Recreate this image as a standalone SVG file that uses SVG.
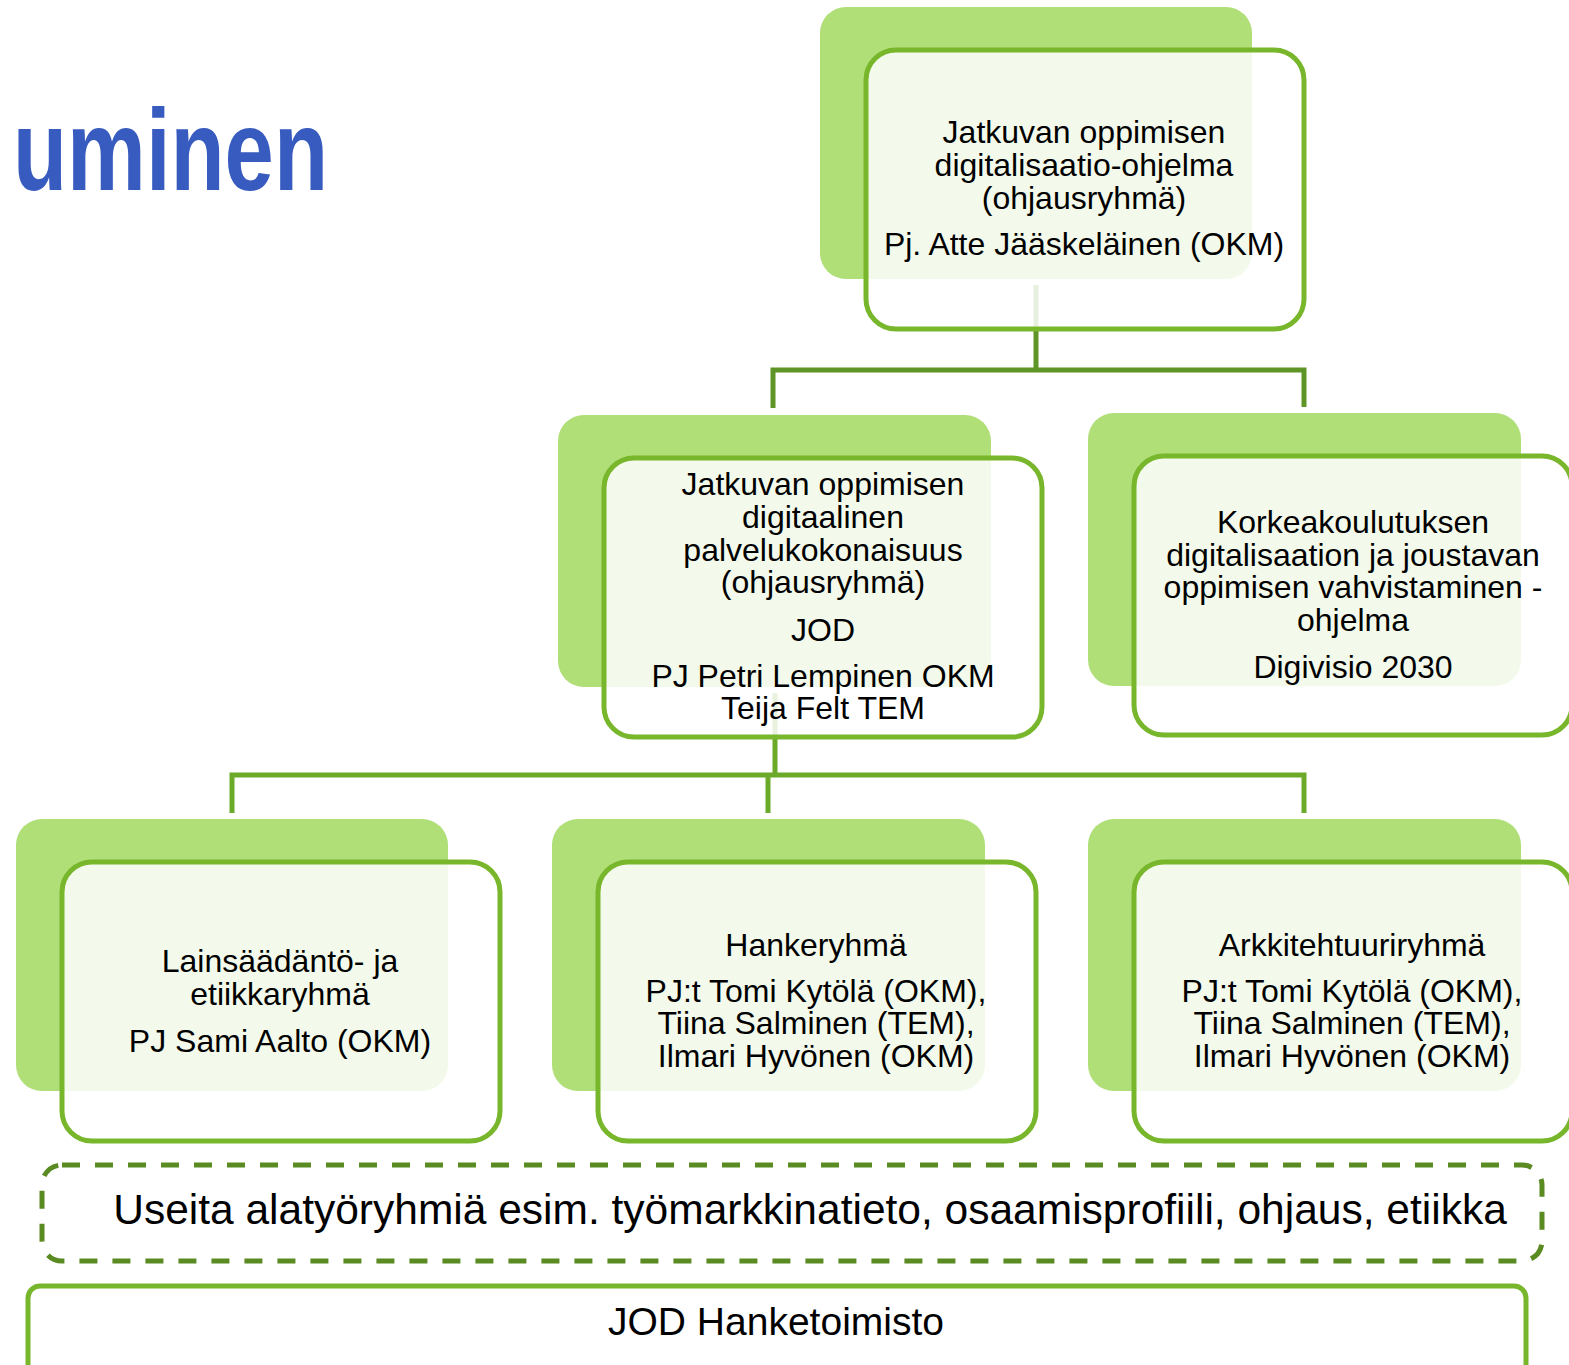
<svg xmlns="http://www.w3.org/2000/svg" width="1569" height="1365" viewBox="0 0 1569 1365">
<style>
.back{fill:#b0df78;}
.front{fill:#ffffff;fill-opacity:0.85;stroke:#78b62c;stroke-width:5;}
.t{font-family:"Liberation Sans",Arial,sans-serif;font-size:32px;fill:#000;text-anchor:middle;}
.c1{fill:none;stroke:#5f9527;stroke-width:5;}
.c2{fill:none;stroke:#6aaa28;stroke-width:5;}
</style>
<rect x="0" y="0" width="1569" height="1365" fill="#ffffff"/>
<text x="13" y="190" textLength="315" lengthAdjust="spacingAndGlyphs" font-family="Liberation Sans, Arial, sans-serif" font-weight="bold" font-size="115" fill="#375bbf">uminen</text>
<g id="connectors">
<path class="c1" d="M1036 285 V370 M773 408 V370 H1304 V407"/>
<path class="c2" d="M775 693 V775 M232 813 V775 H1304 V813 M768 775 V813"/>
</g>
<g id="n-top">
<rect class="back" x="820" y="7" width="432" height="272" rx="26"/>
<rect class="front" x="866" y="50" width="438" height="279" rx="30"/>
<text class="t" x="1084" y="143">Jatkuvan oppimisen</text>
<text class="t" x="1084" y="176">digitalisaatio-ohjelma</text>
<text class="t" x="1084" y="209">(ohjausryhmä)</text>
<text class="t" x="1084" y="255">Pj. Atte Jääskeläinen (OKM)</text>
</g>
<g id="n-jod">
<rect class="back" x="558" y="415" width="433" height="272" rx="26"/>
<rect class="front" x="604" y="458" width="438" height="279" rx="30"/>
<text class="t" x="823" y="495">Jatkuvan oppimisen</text>
<text class="t" x="823" y="528">digitaalinen</text>
<text class="t" x="823" y="561">palvelukokonaisuus</text>
<text class="t" x="823" y="593">(ohjausryhmä)</text>
<text class="t" x="823" y="641">JOD</text>
<text class="t" x="823" y="687">PJ Petri Lempinen OKM</text>
<text class="t" x="823" y="719">Teija Felt TEM</text>
</g>
<g id="n-digivisio">
<rect class="back" x="1088" y="413" width="433" height="273" rx="26"/>
<rect class="front" x="1134" y="456" width="438" height="279" rx="30"/>
<text class="t" x="1353" y="533">Korkeakoulutuksen</text>
<text class="t" x="1353" y="566">digitalisaation ja joustavan</text>
<text class="t" x="1353" y="598">oppimisen vahvistaminen -</text>
<text class="t" x="1353" y="631">ohjelma</text>
<text class="t" x="1353" y="678">Digivisio 2030</text>
</g>
<g id="n-laki">
<rect class="back" x="16" y="819" width="432" height="272" rx="26"/>
<rect class="front" x="62" y="862" width="438" height="279" rx="30"/>
<text class="t" x="280" y="972">Lainsäädäntö- ja</text>
<text class="t" x="280" y="1005">etiikkaryhmä</text>
<text class="t" x="280" y="1052">PJ Sami Aalto (OKM)</text>
</g>
<g id="n-hanke">
<rect class="back" x="552" y="819" width="433" height="272" rx="26"/>
<rect class="front" x="598" y="862" width="438" height="279" rx="30"/>
<text class="t" x="816" y="956">Hankeryhmä</text>
<text class="t" x="816" y="1002">PJ:t Tomi Kytölä (OKM),</text>
<text class="t" x="816" y="1034">Tiina Salminen (TEM),</text>
<text class="t" x="816" y="1067">Ilmari Hyvönen (OKM)</text>
</g>
<g id="n-arkkitehtuuri">
<rect class="back" x="1088" y="819" width="433" height="272" rx="26"/>
<rect class="front" x="1134" y="862" width="438" height="279" rx="30"/>
<text class="t" x="1352" y="956">Arkkitehtuuriryhmä</text>
<text class="t" x="1352" y="1002">PJ:t Tomi Kytölä (OKM),</text>
<text class="t" x="1352" y="1034">Tiina Salminen (TEM),</text>
<text class="t" x="1352" y="1067">Ilmari Hyvönen (OKM)</text>
</g>
<g id="n-alaryhmat">
<rect x="42" y="1165" width="1500" height="96" rx="20" fill="none" stroke="#5a8a22" stroke-width="5" stroke-dasharray="18 15"/>
<text x="810" y="1224" font-family="Liberation Sans, Arial, sans-serif" font-size="42.5" text-anchor="middle" fill="#000">Useita alatyöryhmiä esim. työmarkkinatieto, osaamisprofiili, ohjaus, etiikka</text>
</g>
<g id="n-hanketoimisto">
<rect x="28" y="1286" width="1498" height="100" rx="12" fill="#ffffff" stroke="#78b62c" stroke-width="5"/>
<text x="776" y="1335" font-family="Liberation Sans, Arial, sans-serif" font-size="39" text-anchor="middle" fill="#000">JOD Hanketoimisto</text>
</g>
</svg>
